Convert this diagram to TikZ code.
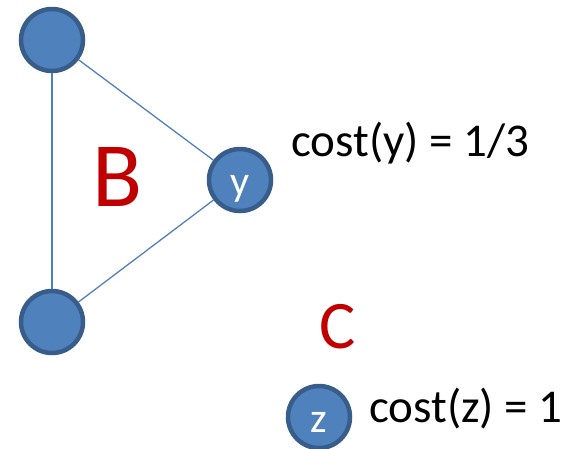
\documentclass[tikz,border=0pt]{standalone}
\usepackage{fontspec}
\setmainfont{Carlito}
\usetikzlibrary{positioning}
\definecolor{vfill}{HTML}{4F81BD}
\definecolor{vline}{HTML}{385D8A}
\definecolor{setred}{HTML}{C00000}
\tikzset{
    vtx/.style={circle, draw=vline, fill=vfill, line width=4.5pt,
        minimum size=62pt, inner sep=0pt, text=white,
        font=\fontsize{42}{44}\selectfont},
    costlbl/.style={anchor=west, inner sep=0pt, font=\fontsize{47}{50}\selectfont},
    setlbl/.style={text=setred, inner sep=0pt},
    edge/.style={draw=vfill, line width=1.3pt}
}
\begin{document}
\begin{tikzpicture}[x=1pt, y=-1pt]
\useasboundingbox (0,0) rectangle (575,448);
\node[vtx] (top) at (52,40) {};
\node[vtx] (bot) at (52,322) {};
\node[vtx] (y) at (240,180) {\raisebox{-15pt}[0pt][0pt]{y}};
\node[vtx] (z) at (319,417) {\raisebox{-15pt}[0pt][0pt]{z}};
\draw[edge] (top) -- (bot);
\draw[edge] (top) -- (y);
\draw[edge] (bot) -- (y);
\node[setlbl, font=\fontsize{92}{96}\selectfont] (b) at (118,177) {B};
\node[setlbl, font=\fontsize{68}{70}\selectfont] (c) at (338,327) {C};
\node[costlbl] (costy) at (291,143) {cost(y) = 1/3};
\node[costlbl] (costz) at (369,409) {cost(z) = 1};
\end{tikzpicture}
\end{document}
